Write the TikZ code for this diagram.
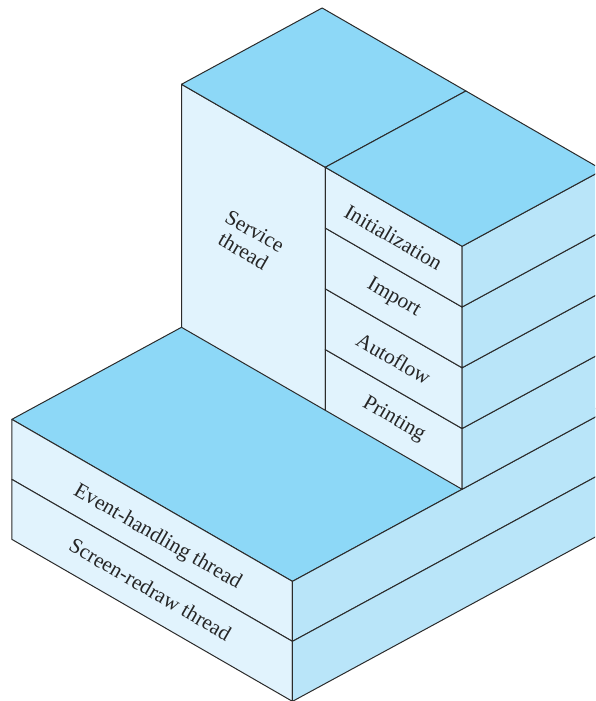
\documentclass[tikz,border=0pt]{standalone}
\usepackage{fontspec}
\setmainfont{Liberation Serif}
\usepackage{xcolor}
\usepackage{tikz}

\definecolor{topblue}{HTML}{8DD8F7}
\definecolor{leftblue}{HTML}{E1F3FD}
\definecolor{rightblue}{HTML}{B9E5F9}
\definecolor{edgegray}{HTML}{2B2B2B}

\begin{document}
\begin{tikzpicture}[
    x={(0.866pt,-0.5pt)}, y={(0.879pt,0.477pt)}, z={(0pt,1pt)},
    face/.style={fill=#1, draw=edgegray, line width=1pt, line join=round},
    topface/.style={face=topblue},
    leftface/.style={face=leftblue},
    rightface/.style={face=rightblue},
    facelabel/.style={font=\fontsize{21.3}{23}\selectfont, text=black!85,
                      rotate=-30, align=center, inner sep=0pt},
]
\useasboundingbox (-181.5pt,327.3pt) rectangle (413.5pt,-373.7pt);
\clip (-181.5pt,327.3pt) rectangle (413.5pt,-373.7pt);

% base slab: two layers
\filldraw[topface] (0,-193,0) -- (324,-193,0) -- (324,160,0) -- (0,160,0) -- cycle;
\foreach \i in {0,1} {
    \filldraw[leftface] (0,-193,-60*\i) -- (324,-193,-60*\i)
        -- (324,-193,-60*\i-60) -- (0,-193,-60*\i-60) -- cycle;
    \filldraw[rightface] (324,-193,-60*\i) -- (324,160,-60*\i)
        -- (324,160,-60*\i-60) -- (324,-193,-60*\i-60) -- cycle;
}

% service tower
\filldraw[leftface] (0,0,0) -- (166,0,0) -- (166,0,243) -- (0,0,243) -- cycle;
\filldraw[topface] (0,0,243) -- (166,0,243) -- (166,160,243) -- (0,160,243) -- cycle;

% stack of four boxes
\foreach \i in {0,1,2,3} {
    \filldraw[leftface] (166,0,60.75*\i) -- (324,0,60.75*\i)
        -- (324,0,60.75*\i+60.75) -- (166,0,60.75*\i+60.75) -- cycle;
    \filldraw[rightface] (324,0,60.75*\i) -- (324,160,60.75*\i)
        -- (324,160,60.75*\i+60.75) -- (324,0,60.75*\i+60.75) -- cycle;
}
\filldraw[topface] (166,0,243) -- (324,0,243) -- (324,160,243) -- (166,160,243) -- cycle;

% labels
\node[facelabel] (service) at (78,0,125) {Service\\thread};
\node[facelabel] (init) at (245,0,212.6) {Initialization};
\node[facelabel] (import) at (245,0,151.9) {Import};
\node[facelabel] (autoflow) at (245,0,91.1) {Autoflow};
\node[facelabel] (printing) at (245,0,30.4) {Printing};
\node[facelabel] (event) at (168,-193,-34) {Event-handling thread};
\node[facelabel] (redraw) at (160,-193,-90) {Screen-redraw thread};

\end{tikzpicture}
\end{document}
